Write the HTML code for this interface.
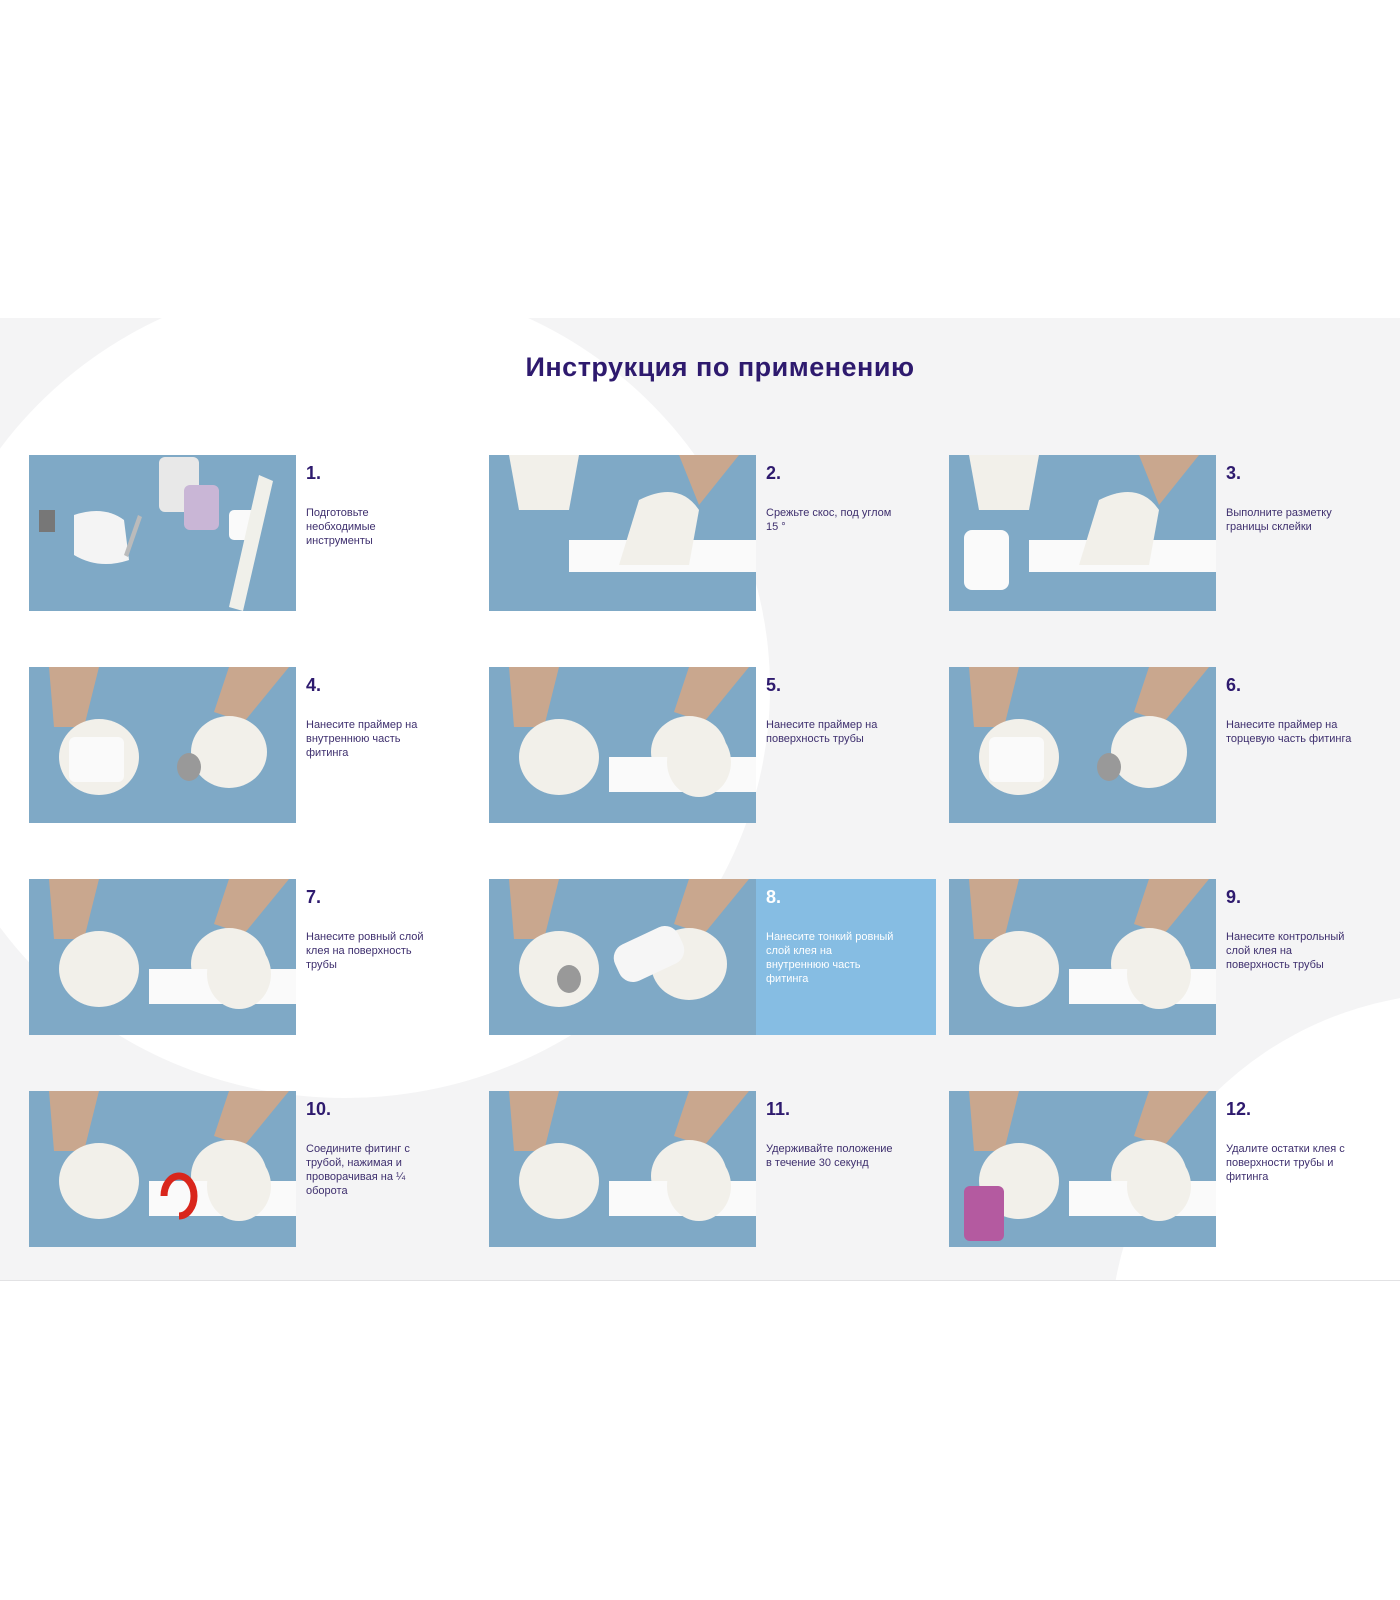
<!DOCTYPE html>
<html><head><meta charset="utf-8"><style>
*{margin:0;padding:0;box-sizing:border-box}
html,body{width:1400px;height:1600px;overflow:hidden}
body{background:#fff;position:relative;font-family:"Liberation Sans",sans-serif}
#sec{position:absolute;left:0;top:318px;width:1400px;height:963px;background:#f4f4f5;overflow:hidden;border-bottom:1px solid #e2e2e4}
.c{position:absolute;background:#fff;border-radius:50%}
h1{position:absolute;left:20px;width:1400px;top:34px;text-align:center;font-size:27px;font-weight:bold;color:#2e1a6e;letter-spacing:.5px}
.p{position:absolute;width:267px;height:156px;background:#7fa9c6;overflow:hidden}
.p svg{display:block}
.n{position:absolute;font-size:18px;font-weight:bold;color:#2e1a6e}
.d{position:absolute;font-size:11px;line-height:14px;color:#3e2f6e;width:132px}
#b8{position:absolute;left:756px;top:561px;width:180px;height:156px;background:#86bde3}
</style></head><body>
<div id="sec">
<div class="c" style="left:-80px;top:-40px;width:850px;height:820px"></div>
<div class="c" style="left:1110px;top:675px;width:700px;height:700px"></div>
<h1>Инструкция по применению</h1>
<div id="b8"></div>
</div>
<div id="g"></div>
<script>
const xs=[29,489,949],ys=[455,667,879,1091];
const data=[["1.","Подготовьте необходимые инструменты"],["2.","Срежьте скос, под углом 15 °"],["3.","Выполните разметку границы склейки"],["4.","Нанесите праймер на внутреннюю часть фитинга"],["5.","Нанесите праймер на поверхность трубы"],["6.","Нанесите праймер на торцевую часть фитинга"],["7.","Нанесите ровный слой клея на поверхность трубы"],["8.","Нанесите тонкий ровный слой клея на внутреннюю часть фитинга"],["9.","Нанесите контрольный слой клея на поверхность трубы"],["10.","Соедините фитинг с трубой, нажимая и проворачивая на ¼ оборота"],["11.","Удерживайте положение в течение 30 секунд"],["12.","Удалите остатки клея с поверхности трубы и фитинга"]];
let h="";
data.forEach((d,i)=>{const x=xs[i%3],y=ys[Math.floor(i/3)];
let s='<svg width="267" height="156">';
if(i==0){s+='<rect x="130" y="2" width="40" height="55" rx="6" fill="#e8e8e8"/><rect x="155" y="30" width="35" height="45" rx="6" fill="#c9b6d6"/><path d="M45 60 q30-10 50 5 l5 40 q-30 10-55 -5z" fill="#f4f4f4"/><rect x="200" y="55" width="28" height="30" rx="5" fill="#fafafa"/><path d="M230 20 l14 6 -30 130 -14 -4z" fill="#f0f0ea"/><rect x="10" y="55" width="16" height="22" fill="#777"/><path d="M95 100 l14 -40 4 2 -14 40z" fill="#bbb"/>';}
else if(i==1||i==2){s+='<rect x="80" y="85" width="187" height="32" fill="#fafafa"/><path d="M20 0 h70 l-10 55 h-50z" fill="#f2f0ea"/><path d="M190 0 h60 l-40 50z" fill="#c9a78e"/><path d="M150 45 q40-20 60 10 l-10 55 h-70z" fill="#f2f0ea"/>';if(i==2)s+='<rect x="15" y="75" width="45" height="60" rx="8" fill="#fafafa"/>';}
else{s+='<path d="M20 0 h50 l-15 60 h-30z" fill="#c9a78e"/><path d="M200 0 h60 l-45 55 -30 -10z" fill="#c9a78e"/><ellipse cx="70" cy="90" rx="40" ry="38" fill="#f2f0ea"/><ellipse cx="200" cy="85" rx="38" ry="36" fill="#f2f0ea"/>';
if(i>=4&&i!=5&&i!=7)s+='<rect x="120" y="90" width="147" height="35" fill="#fafafa"/><ellipse cx="210" cy="95" rx="32" ry="35" fill="#f2f0ea"/>';
if(i==3||i==5)s+='<rect x="40" y="70" width="55" height="45" rx="6" fill="#fafafa"/><ellipse cx="160" cy="100" rx="12" ry="14" fill="#999"/>';
if(i==7)s+='<rect x="125" y="55" width="70" height="40" rx="15" fill="#f6f6f6" transform="rotate(-25 160 75)"/><ellipse cx="80" cy="100" rx="12" ry="14" fill="#999"/>';
if(i==9)s+='<path d="M135 105 a15 20 0 1 1 15 20" stroke="#d9261c" stroke-width="7" fill="none"/>';
if(i==11)s+='<rect x="15" y="95" width="40" height="55" rx="6" fill="#b45aa0"/>';}
s+='</svg>';
h+='<div class="p" style="left:'+x+'px;top:'+y+'px">'+s+'</div>';
const c=i==7?'#fff':'';
h+='<div class="n" style="left:'+(x+277)+'px;top:'+(y+8)+'px;'+(c?'color:'+c:'')+'">'+d[0]+'</div>';
h+='<div class="d" style="left:'+(x+277)+'px;top:'+(y+51)+'px;'+(c?'color:'+c:'')+'">'+d[1]+'</div>';});
document.getElementById('g').innerHTML=h;
</script>
</body></html>
